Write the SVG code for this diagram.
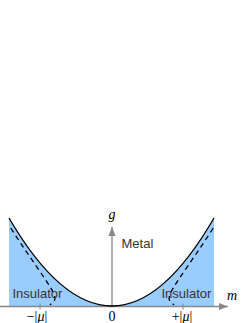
<svg xmlns="http://www.w3.org/2000/svg" width="249" height="323" viewBox="0 0 249 323">
<style>
.fill{fill:#99ccff;stroke:none}
.curve{fill:none;stroke:#000;stroke-width:1.3}
.dash{fill:none;stroke:#000;stroke-width:1.3;stroke-dasharray:5,4}
.axis{fill:none;stroke:#888;stroke-width:1.3}
.tick{fill:none;stroke:#888;stroke-width:1}
.lbl{font-family:"Liberation Sans",Arial,sans-serif;font-size:13px;fill:#333}
.math{font-family:"Liberation Serif","Times New Roman",serif;font-size:14px;fill:#000}
.mi{font-style:italic}
</style>
<defs>
<marker id="arr" viewBox="0 0 10 10" refX="10" refY="5" markerWidth="9" markerHeight="9" markerUnits="userSpaceOnUse" orient="auto">
<path d="M0,1 L10,5 L0,9 Z" fill="#888"/>
</marker>
</defs>
<g id="regions">
<path class="fill" d="M9,218 Q60.5,306 112,306 L9,306 Z"/>
<path class="fill" d="M214,218 Q163,306 112,306 L214,306 Z"/>
</g>
<g id="connectors">
<line class="axis" x1="0" y1="306.5" x2="228" y2="306.5" marker-end="url(#arr)"/>
<line class="axis" x1="112" y1="306.5" x2="112" y2="227" marker-end="url(#arr)"/>
<line class="tick" x1="40" y1="303.5" x2="40" y2="309.5"/>
<line class="tick" x1="183" y1="303.5" x2="183" y2="309.5"/>
</g>
<g id="curves">
<path class="curve" d="M9,218 Q60.5,306 112,306 Q163,306 214,218"/>
<path class="dash" d="M10.7,228 C30,258 48,282 53,292 S52,302 50,305"/>
<path class="dash" d="M213.3,228 C194,258 176,282 171,292 S172,302 174,305"/>
</g>
<g id="labels">
<text class="lbl" x="12.5" y="298">Insulator</text>
<text class="lbl" x="161.5" y="298">Insulator</text>
<text class="lbl" x="121.5" y="248">Metal</text>
<text class="math mi" x="112" y="219" text-anchor="middle" font-size="18">g</text>
<text class="math mi" x="232" y="300" text-anchor="middle" font-size="19">m</text>
<text class="math" x="112" y="321" text-anchor="middle" font-size="15">0</text>
<text class="math" x="37" y="321" text-anchor="middle">−|<tspan class="mi">μ</tspan>|</text>
<text class="math" x="182" y="321" text-anchor="middle">+|<tspan class="mi">μ</tspan>|</text>
</g>
</svg>
